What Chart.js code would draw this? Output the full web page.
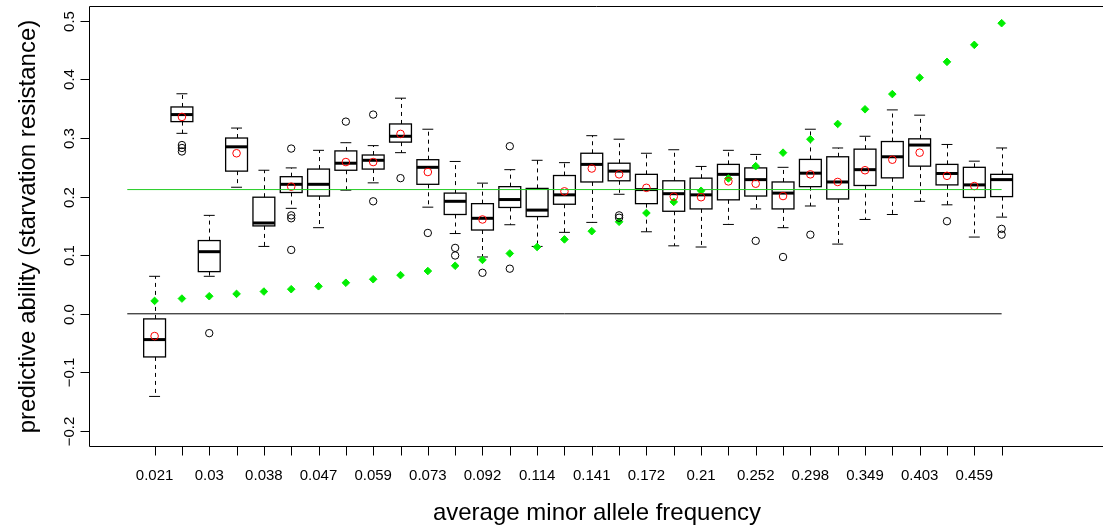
<!DOCTYPE html>
<html>
<head>
<meta charset="utf-8">
<script src="https://cdn.jsdelivr.net/npm/chart.js@4.4.1/dist/chart.umd.min.js"></script>
<style>
  html, body { margin: 0; padding: 0; background: #fff; overflow: hidden; }
  #wrap { width: 1103px; height: 530px; }
</style>
</head>
<body>
<div id="wrap"><canvas id="chart" width="1103" height="530"></canvas></div>
<script>
// Printed x tick labels (every other category, positions 1, 3, 5, ... 31)
const tickLabels = ['0.021', '0.03', '0.038', '0.047', '0.059', '0.073', '0.092', '0.114',
  '0.141', '0.172', '0.21', '0.252', '0.298', '0.349', '0.403', '0.459'];
const yTicks = [-0.2, -0.1, 0.0, 0.1, 0.2, 0.3, 0.4, 0.5];

// Box statistics per category (32 categories)
const boxLow = [-0.141, 0.308, 0.064, 0.216, 0.115, 0.180, 0.147, 0.211, 0.2235, 0.275, 0.182, 0.137,
  0.097, 0.152, 0.115, 0.139, 0.156, 0.204, 0.140, 0.116, 0.114, 0.1525, 0.179, 0.147,
  0.184, 0.119, 0.161, 0.1695, 0.192, 0.186, 0.131, 0.165];
const boxQ1 = [-0.0736, 0.328, 0.072, 0.2435, 0.150, 0.207, 0.201, 0.245, 0.247, 0.293, 0.221, 0.1695,
  0.143, 0.1815, 0.166, 0.187, 0.225, 0.227, 0.188, 0.175, 0.179, 0.1945, 0.201, 0.179,
  0.217, 0.196, 0.219, 0.232, 0.252, 0.220, 0.1986, 0.200];
const boxMedian = [-0.044, 0.340, 0.106, 0.285, 0.155, 0.221, 0.221, 0.257, 0.262, 0.303, 0.250, 0.192,
  0.163, 0.195, 0.177, 0.203, 0.255, 0.2435, 0.212, 0.205, 0.203, 0.238, 0.229, 0.206,
  0.240, 0.225, 0.246, 0.268, 0.288, 0.2395, 0.220, 0.229];
const boxQ3 = [-0.0087, 0.353, 0.125, 0.300, 0.199, 0.234, 0.247, 0.278, 0.271, 0.324, 0.263, 0.206,
  0.188, 0.217, 0.214, 0.236, 0.274, 0.257, 0.238, 0.227, 0.2315, 0.255, 0.249, 0.225,
  0.2635, 0.268, 0.281, 0.294, 0.2986, 0.255, 0.250, 0.238];
const boxHigh = [0.064, 0.3755, 0.168, 0.317, 0.245, 0.249, 0.279, 0.292, 0.287, 0.368, 0.315, 0.260,
  0.223, 0.246, 0.262, 0.258, 0.304, 0.298, 0.274, 0.280, 0.2515, 0.279, 0.272, 0.250,
  0.315, 0.283, 0.303, 0.348, 0.339, 0.289, 0.2605, 0.283];

// Mean of each category (red circles), null where none is drawn
const boxMean = [-0.038, 0.336, null, 0.274, null, 0.217, null, 0.259, 0.259, 0.307, 0.242, null,
  0.161, null, null, 0.209, 0.248, 0.238, 0.215, 0.200, 0.199, 0.226, 0.222, 0.201,
  0.238, 0.225, 0.245, 0.263, 0.275, 0.2355, 0.218, null];

// Outliers per category
const outliers = [[], [0.288, 0.283, 0.277], [-0.033], [], [], [0.282, 0.168, 0.163, 0.109], [], [0.328],
  [0.340, 0.192], [0.2315], [0.138], [0.1125, 0.0995], [0.070], [0.286, 0.077], [], [],
  [], [0.168, 0.164], [], [], [], [], [0.1245], [0.097],
  [0.135], [], [], [], [], [0.158], [], [0.145, 0.135]];

// Average minor allele frequency of each category (green diamonds)
const avgMaf = [0.022, 0.026, 0.030, 0.034, 0.038, 0.042, 0.047, 0.053, 0.059, 0.066, 0.073, 0.082,
  0.092, 0.103, 0.114, 0.127, 0.141, 0.157, 0.172, 0.191, 0.210, 0.231, 0.252, 0.275,
  0.298, 0.324, 0.349, 0.375, 0.403, 0.430, 0.459, 0.496];

// Reference lines
const zeroLine = 0.0;
const meanLine = 0.212;

const FONT = '"Liberation Sans", Arial, Helvetica, sans-serif';

// Draw the boxes and whiskers under the point datasets
const boxPlugin = {
  id: 'boxes',
  beforeDatasetsDraw(chart) {
    const { ctx, scales: { x, y } } = chart;
    ctx.save();
    ctx.strokeStyle = '#000';
    boxMedian.forEach((med, i) => {
      const pos = i + 1;
      const cx = Math.round(x.getPixelForValue(pos)) + 0.5;
      const left = x.getPixelForValue(pos - 0.4);
      const right = x.getPixelForValue(pos + 0.4);
      const capL = x.getPixelForValue(pos - 0.2);
      const capR = x.getPixelForValue(pos + 0.2);
      const yLo = y.getPixelForValue(boxLow[i]);
      const yQ1 = y.getPixelForValue(boxQ1[i]);
      const yMed = y.getPixelForValue(med);
      const yQ3 = y.getPixelForValue(boxQ3[i]);
      const yHi = y.getPixelForValue(boxHigh[i]);

      // dashed whiskers
      ctx.lineWidth = 1;
      ctx.setLineDash([4, 4]);
      ctx.beginPath();
      ctx.moveTo(cx, yQ3); ctx.lineTo(cx, yHi);
      ctx.moveTo(cx, yQ1); ctx.lineTo(cx, yLo);
      ctx.stroke();
      ctx.setLineDash([]);

      // whisker caps
      ctx.beginPath();
      ctx.moveTo(capL, yHi); ctx.lineTo(capR, yHi);
      ctx.moveTo(capL, yLo); ctx.lineTo(capR, yLo);
      ctx.stroke();

      // box
      ctx.lineWidth = 1.3;
      ctx.strokeRect(left, yQ3, right - left, yQ1 - yQ3);

      // median
      ctx.lineWidth = 3;
      ctx.beginPath();
      ctx.moveTo(left, yMed); ctx.lineTo(right, yMed);
      ctx.stroke();
    });
    ctx.restore();
  }
};

// Frame, ticks, tick labels and axis titles in R style
const axesPlugin = {
  id: 'rAxes',
  afterDraw(chart) {
    const { ctx, chartArea: area, scales: { x, y } } = chart;
    const left = Math.round(area.left) - 0.5;
    const top = Math.round(area.top) + 0.5;
    const bottom = Math.round(area.bottom) - 0.5;
    ctx.save();
    ctx.strokeStyle = '#000';
    ctx.lineWidth = 1;
    ctx.beginPath();
    ctx.moveTo(area.right + 5, top);
    ctx.lineTo(left, top);
    ctx.lineTo(left, bottom);
    ctx.lineTo(area.right + 5, bottom);
    ctx.stroke();

    ctx.fillStyle = '#000';
    ctx.font = '15px ' + FONT;

    // y axis
    yTicks.forEach(v => {
      const py = Math.round(y.getPixelForValue(v)) + 0.5;
      ctx.beginPath();
      ctx.moveTo(left - 9, py); ctx.lineTo(left, py);
      ctx.stroke();
      ctx.save();
      ctx.translate(70, py);
      ctx.rotate(-Math.PI / 2);
      ctx.textAlign = 'center';
      ctx.textBaseline = 'middle';
      ctx.fillText(v.toFixed(1).replace('-', '\u2212'), 0, 0);
      ctx.restore();
    });

    // x axis
    for (let pos = 1; pos <= boxMedian.length; pos++) {
      const px = Math.round(x.getPixelForValue(pos)) + 0.5;
      ctx.beginPath();
      ctx.moveTo(px, bottom); ctx.lineTo(px, bottom + 9);
      ctx.stroke();
    }
    ctx.textAlign = 'center';
    ctx.textBaseline = 'middle';
    tickLabels.forEach((lab, k) => {
      ctx.fillText(lab, x.getPixelForValue(1 + 2 * k), 476);
    });

    // axis titles
    ctx.font = '24px ' + FONT;
    ctx.fillText('average minor allele frequency', 597, 513);
    ctx.save();
    ctx.translate(28, (area.top + area.bottom) / 2);
    ctx.rotate(-Math.PI / 2);
    ctx.fillText('predictive ability (starvation resistance)', 0, 0);
    ctx.restore();
    ctx.restore();
  }
};

const outlierPoints = outliers.flatMap((list, i) => list.map(v => ({ x: i + 1, y: v })));
const meanPoints = boxMean.map((v, i) => ({ x: i + 1, y: v })).filter(p => p.y !== null);
const mafPoints = avgMaf.map((v, i) => ({ x: i + 1, y: v }));

const ctx = document.getElementById('chart').getContext('2d');
new Chart(ctx, {
  type: 'scatter',
  data: {
    datasets: [
      {
        label: 'zero',
        type: 'line',
        data: [{ x: 0, y: zeroLine }, { x: 32, y: zeroLine }],
        borderColor: '#000',
        borderWidth: 1,
        pointRadius: 0,
        showLine: true
      },
      {
        label: 'mean level',
        type: 'line',
        data: [{ x: 0, y: meanLine }, { x: 32, y: meanLine }],
        borderColor: '#22cc22',
        borderWidth: 1,
        pointRadius: 0,
        showLine: true
      },
      {
        label: 'outliers',
        data: outlierPoints,
        pointStyle: 'circle',
        radius: 3.7,
        borderColor: '#000',
        backgroundColor: 'rgba(0,0,0,0)',
        borderWidth: 1
      },
      {
        label: 'mean',
        data: meanPoints,
        pointStyle: 'circle',
        radius: 3.8,
        borderColor: '#ff0000',
        backgroundColor: 'rgba(0,0,0,0)',
        borderWidth: 1
      },
      {
        label: 'average MAF',
        data: mafPoints,
        pointStyle: 'rectRot',
        radius: 3.8,
        borderColor: '#00ee00',
        backgroundColor: '#00ee00',
        borderWidth: 1
      }
    ]
  },
  options: {
    responsive: false,
    devicePixelRatio: 1,
    animation: false,
    layout: { autoPadding: false, padding: { left: 90, top: 6, right: 0, bottom: 83 } },
    plugins: { legend: { display: false }, tooltip: { enabled: false } },
    scales: {
      x: { type: 'linear', min: -1.364, max: 35.71, display: false },
      y: { type: 'linear', min: -0.2273, max: 0.5253, display: false }
    }
  },
  plugins: [boxPlugin, axesPlugin]
});
</script>
</body>
</html>
